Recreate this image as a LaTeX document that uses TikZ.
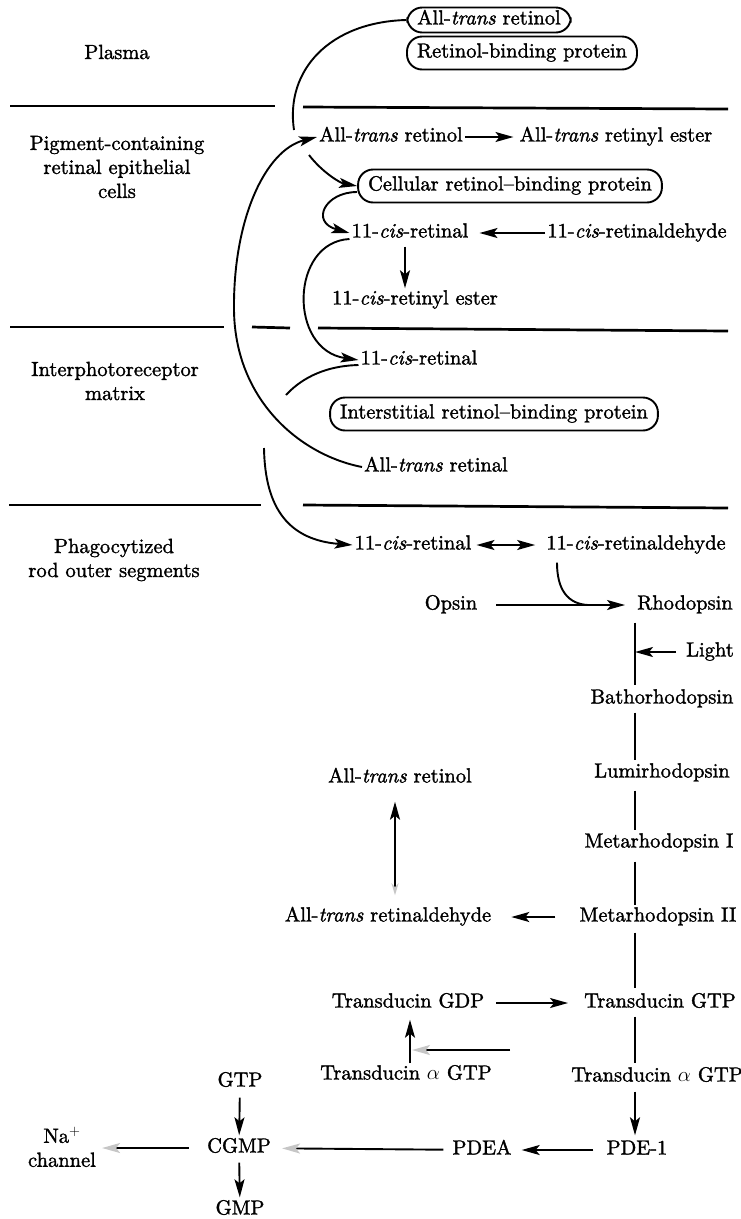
\documentclass[tikz,border=0pt]{standalone}
\usepackage{fontspec}
\setmainfont{lmroman10-regular.otf}[ItalicFont=lmroman10-italic.otf, FakeBold=1.5]
\usetikzlibrary{arrows.meta}
\begin{document}
\begin{tikzpicture}[x=1pt,y=-1pt,
  every node/.style={font=\fontsize{20.5}{24}\selectfont},
  txt/.style={inner sep=2pt, text height=14pt, text depth=5pt},
  pill/.style={txt, draw, line width=1.9pt, rounded corners=15pt, inner xsep=10pt, inner ysep=7pt},
  region/.style={align=center, inner sep=2pt},
  ln/.style={line width=1.9pt},
  sepline/.style={line width=2.7pt},
  arr/.style={line width=1.9pt, -{Stealth[length=18pt,width=10pt,inset=4pt]}},
  faint/.style={line width=1.9pt, -{Stealth[length=18pt,width=10pt,inset=4pt,color=gray!45]}},
  dbl/.style={line width=1.9pt, {Stealth[length=18pt,width=10pt,inset=4pt]}-{Stealth[length=18pt,width=10pt,inset=4pt]}}
]
\useasboundingbox (0,0) rectangle (741,1219);

% separator lines
\draw[sepline] (10,106) -- (275,106);
\draw[sepline] (303,107) -- (728,109);
\draw[sepline] (10,327) -- (224,327);
\draw[sepline] (252,327) -- (290,328);
\draw[sepline] (318,328) -- (728,331);
\draw[sepline] (9,505) -- (261,505);
\draw[sepline] (303,505) -- (728,508);

% region labels
\node[region] (plasma) at (117,52) {Plasma};
\node[region] (pig) at (117,167) {Pigment-containing\\retinal epithelial\\cells};
\node[region] (inter) at (115,381) {Interphotoreceptor\\matrix};
\node[region] (phago) at (114,560) {Phagocytized\\rod outer segments};

% upper nodes
\node[pill, inner ysep=3pt] (atrol1) at (489,20) {All-\textit{trans} retinol};
\node[pill] (rbp) at (522,53) {Retinol-binding protein};
\node[txt] (atrol2) at (391,137) {All-\textit{trans} retinol};
\node[txt] (ester) at (616,137) {All-\textit{trans} retinyl ester};
\node[pill] (crbp) at (510,186) {Cellular retinol\textendash binding protein};
\node[txt] (cis1) at (410,233) {11-\textit{cis}-retinal};
\node[txt] (cisald1) at (637,233) {11-\textit{cis}-retinaldehyde};
\node[txt] (cisester) at (415,300) {11-\textit{cis}-retinyl ester};
\node[txt] (cis2) at (419,360) {11-\textit{cis}-retinal};
\node[pill] (irbp) at (494,414) {Interstitial retinol\textendash binding protein};
\node[txt] (atral) at (436,467) {All-\textit{trans} retinal};
\node[txt] (cis3) at (413,545) {11-\textit{cis}-retinal};
\node[txt] (cisald2) at (636,545) {11-\textit{cis}-retinaldehyde};

% rod cascade
\node[txt] (opsin) at (451,605) {Opsin};
\node[txt] (rho) at (685,605) {Rhodopsin};
\node[txt] (light) at (710,652) {Light};
\node[txt] (batho) at (662,699) {Bathorhodopsin};
\node[txt] (lumi) at (662,773) {Lumirhodopsin};
\node[txt] (meta1) at (659,843) {Metarhodopsin I};
\node[txt] (meta2) at (658,917) {Metarhodopsin II};
\node[txt] (atrol3) at (400,778) {All-\textit{trans} retinol};
\node[txt] (atrald) at (388,917) {All-\textit{trans} retinaldehyde};
\node[txt] (tgtp) at (660,1003) {Transducin GTP};
\node[txt] (tgdp) at (408,1003) {Transducin GDP};
\node[txt] (tagtp1) at (406,1075) {Transducin $\alpha$ GTP};
\node[txt] (tagtp2) at (657,1077) {Transducin $\alpha$ GTP};
\node[txt] (pde1) at (637,1150) {PDE-1};
\node[txt] (pdea) at (482,1150) {PDEA};
\node[txt] (cgmp) at (239,1148) {CGMP};
\node[txt] (gtp) at (240,1082) {GTP};
\node[txt] (gmp) at (240,1210) {GMP};
\node[region] (na) at (62,1147) {Na$^+$\\channel};

\coordinate (sp) at (635,0);
\coordinate (aend) at (294,130);
\coordinate (bstart) at (309,155);
\coordinate (fend) at (286,395);
\coordinate (gstart) at (264,448);
\coordinate (join) at (588,605);
\coordinate (hs) at (510,1050);
\coordinate (he) at (412,1050);

% upper connectors
\draw[ln] (atrol1.west) .. controls (330,22) and (285,70) .. (aend);
\draw[arr] (bstart) .. controls (322,172) and (340,183) .. (crbp.west);
\draw[arr, shorten >=4pt] (atrol2) -- (ester);
\draw[arr] ([yshift=-6pt]crbp.west) .. controls (325,192) and (310,222) .. (cis1.west);
\draw[arr, shorten >=9pt] (cisald1) -- (cis1);
\draw[arr, shorten <=2pt] ([xshift=-5pt]cis1.south) -- ([xshift=-10pt]cisester.north);
\draw[arr] ([yshift=-6pt]cis1.west) .. controls (290,242) and (288,350) .. (cis2.west);
\draw[arr] (atral.west) .. controls (300,455) and (235,400) .. (234,310) .. controls (233,220) and (265,150) .. (atrol2.west);
\draw[ln] ([yshift=-5pt]cis2.west) .. controls (320,366) and (298,382) .. (fend);
\draw[arr] (gstart) .. controls (265,510) and (290,540) .. (cis3.west);
\draw[dbl, shorten <=3pt, shorten >=9pt] (cis3) -- (cisald2);

% rod cascade connectors
\draw[arr, shorten <=17pt, shorten >=10pt] (opsin) -- (rho);
\draw[ln, shorten <=6pt] ([xshift=-79pt]cisald2.south) .. controls (557,590) and (568,604) .. (join);
\draw[ln, shorten <=6pt, shorten >=2pt] (rho.south -| sp) -- (batho.north -| sp);
\draw[arr, shorten <=8pt] (light.west) -- (light.west -| sp);
\draw[ln, shorten <=2pt, shorten >=1pt] (batho.south -| sp) -- (lumi.north -| sp);
\draw[ln, shorten <=6pt, shorten >=1pt] (lumi.south -| sp) -- (meta1.north -| sp);
\draw[ln, shorten <=7pt] (meta1.south -| sp) -- (meta2.north -| sp);
\draw[ln, shorten <=4pt, shorten >=3pt] (meta2.south -| sp) -- (tgtp.north -| sp);
\draw[ln, shorten <=2pt, shorten >=2pt] (tgtp.south -| sp) -- (tagtp2.north -| sp);
\draw[arr, shorten <=3pt, shorten >=3pt] (tagtp2.south -| sp) -- (pde1.north -| sp);
\draw[arr, shorten <=22pt, shorten >=18pt] (meta2) -- (atrald);
\draw[line width=1.9pt, {Stealth[length=12pt,width=7pt,color=gray!45]}-{Stealth[length=18pt,width=10pt,inset=4pt]}, shorten <=10pt, shorten >=12pt] ([xshift=7pt]atrald.north) -- ([xshift=-5pt]atrol3.south);
\draw[arr, shorten <=10pt, shorten >=14pt] (tgdp) -- (tgtp);
\draw[arr, shorten >=5pt] ([xshift=4pt]tagtp1.north) -- ([xshift=2pt]tgdp.south);
\draw[faint] (hs) -- (he);
\draw[arr, shorten <=11pt, shorten >=8pt] (pde1) -- (pdea);
\draw[faint, shorten <=7pt, shorten >=9pt] (pdea) -- (cgmp);
\draw[faint, shorten <=16pt, shorten >=4pt] (cgmp.west) -- (cgmp.west -| na.east);
\draw[arr, shorten <=4pt, shorten >=1pt] (gtp) -- (cgmp);
\draw[arr, shorten <=3pt, shorten >=1pt] (cgmp) -- (gmp);
\end{tikzpicture}
\end{document}
